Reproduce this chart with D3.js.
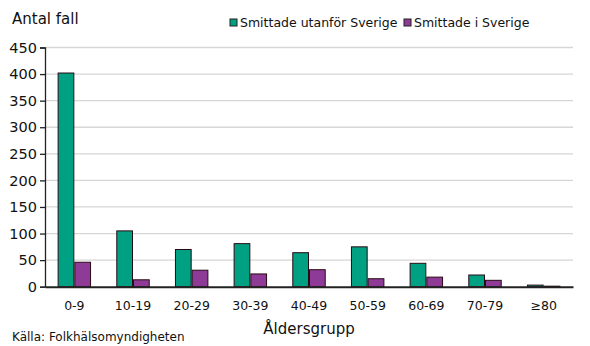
<!DOCTYPE html>
<html><head><meta charset="utf-8">
<script src="https://cdn.jsdelivr.net/npm/d3@7"></script>
<style>
body{margin:0;background:#fff;}
svg{display:block;font-family:"DejaVu Sans",Verdana,sans-serif;}
</style></head>
<body><svg id="c" width="590" height="346"></svg>
<script>
const categories = ["0-9","10-19","20-29","30-39","40-49","50-59","60-69","70-79","≥80"];
const utanfor = [402,105,70,81,64,75,44,22,3];
const iSverige = [46,13,31,24,32,15,18,12,1];
const seriesNames = ["Smittade utanför Sverige","Smittade i Sverige"];
const yTicks = [0,50,100,150,200,250,300,350,400,450];
const colors = ["#00a082","#8e3b98"];

const svg = d3.select("#c");
const m = {l:45, r:17, t:47.5, b:59};
const W = 590, H = 346;
const x = d3.scaleBand().domain(categories).range([m.l, W - m.r]).paddingInner(0.43).paddingOuter(0.215);
const x1 = d3.scaleBand().domain([0,1]).range([0, x.bandwidth()]);
const y = d3.scaleLinear().domain([0,450]).range([H - m.b - 0.3, m.t]);

// gridlines
svg.append("g").selectAll("line").data(yTicks.filter(d=>d>0)).join("line")
  .attr("x1", m.l).attr("x2", W - m.r)
  .attr("y1", d=>y(d)).attr("y2", d=>y(d))
  .attr("stroke","#d6d6d6").attr("stroke-width",1.3);

// bars
const data = categories.map((c,i)=>({c, v:[utanfor[i], iSverige[i]]}));
const g = svg.append("g").selectAll("g").data(data).join("g")
  .attr("transform", d=>`translate(${x(d.c)},0)`);
g.selectAll("rect").data(d=>d.v.map((v,k)=>({v,k}))).join("rect")
  .attr("x", d=>x1(d.k)+0.5).attr("width", x1.bandwidth()-1)
  .attr("y", d=>y(d.v)).attr("height", d=>y(0)-y(d.v))
  .attr("fill", d=>colors[d.k]).attr("stroke","#2a0a14").attr("stroke-width",1);

// y axis
const ya = svg.append("g").attr("transform",`translate(${m.l},0)`)
  .call(d3.axisLeft(y).tickValues(yTicks).tickSize(5).tickPadding(3));
ya.select(".domain").attr("stroke","#222").attr("stroke-width",1.3);
ya.selectAll(".tick line").attr("stroke","#222").attr("stroke-width",1.3);
ya.selectAll("text").attr("font-size",14.5).attr("fill","#111")
  .attr("font-family","'DejaVu Sans',Verdana,sans-serif");

// x axis
const xa = svg.append("g").attr("transform",`translate(0,${y(0)})`)
  .call(d3.axisBottom(x).tickSize(0).tickPadding(14));
xa.select(".domain").attr("stroke","#222").attr("stroke-width",2);
xa.selectAll("text").attr("font-size",12.5).attr("fill","#111")
  .attr("font-family","'DejaVu Sans',Verdana,sans-serif");

// titles
svg.append("text").attr("x",12).attr("y",24).attr("font-size",15).attr("fill","#111").text("Antal fall");
svg.append("text").attr("x",(m.l + W - m.r)/2).attr("y",334).attr("text-anchor","middle")
  .attr("font-size",15).attr("fill","#111").text("Åldersgrupp");
svg.append("text").attr("x",12).attr("y",341).attr("font-size",12).attr("fill","#111").text("Källa: Folkhälsomyndigheten");

// legend
const legX = [230, 404];
const lg = svg.append("g").selectAll("g").data(seriesNames).join("g")
  .attr("transform",(d,i)=>`translate(${legX[i]},19)`);
lg.append("rect").attr("width",7).attr("height",7).attr("fill",(d,i)=>colors[i]).attr("stroke","#222").attr("stroke-width",1);
lg.append("text").attr("x",10).attr("y",8).attr("font-size",12.5).attr("fill","#111").text(d=>d);
</script></body></html>
